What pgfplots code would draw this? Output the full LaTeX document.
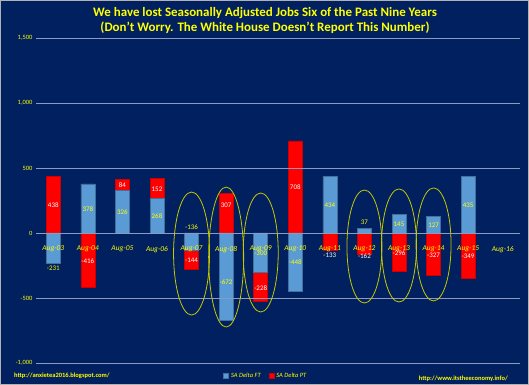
\documentclass[border=0pt]{standalone}
\usepackage{fontspec}
\setmainfont{Carlito}
\usepackage{pgfplots}
\usepackage{pgfplotstable}
\pgfplotsset{compat=1.18}
\definecolor{navy}{HTML}{002060}
\definecolor{ftblue}{HTML}{5B9BD5}
\definecolor{ftedge}{HTML}{41719C}
\definecolor{ptred}{HTML}{FF0000}
\definecolor{ylw}{HTML}{FFFF00}
\definecolor{ell}{HTML}{C8C800}
\definecolor{gridc}{HTML}{8C9AC0}

\pgfplotstableread{
x ft pt
0 -231 438
1 378 -416
2 326 84
3 268 152
4 -136 -144
5 -672 307
6 -300 -228
7 -448 708
8 434 -133
9 37 -162
10 145 -296
11 127 -327
12 435 -349
}\bars

\pgfplotstableread{
x y lab
0 -272 -231
1 185 378
2 159 326
3 128 268
4 46 -136
5 -379 -672
6 -156 -300
7 -228 -448
8 213 434
9 79 37
10 69 145
11 59 127
12 213 435
}\ylabels

\pgfplotstableread{
x y lab
0 215 438
1 -213 -416
2 367 84
3 338 152
4 -213 -144
5 215 307
6 -421 -228
7 349 708
10 -156 -296
11 -172 -327
12 -182 -349
}\wlabels

\pgfplotstableread{
x y lab
8 -174 -133
9 -177 -162
}\wlabelsb

\begin{document}
\begin{tikzpicture}
\fill[navy] (0bp,0bp) rectangle (529bp,385bp);
\draw[gray!60, line width=1bp] (0.5bp,0.5bp) rectangle (528.5bp,384.5bp);
\useasboundingbox (0bp,0bp) rectangle (529bp,385bp);
\pgfplotsset{base/.style={scale only axis, width=484bp, height=325bp,
  at={(36bp,22bp)}, anchor=south west, xmin=-0.5, xmax=13.5,
  ymin=-1000, ymax=1500, clip=false}}
\begin{axis}[base, ybar stacked, stack negative=separate, bar width=14bp,
  axis on top,
  axis x line*=middle, axis y line*=left,
  x axis line style={draw=none}, y axis line style={draw=none},
  xtick={0,...,13},
  xticklabels={Aug-03,Aug-04,Aug-05,Aug-06,Aug-07,Aug-08,Aug-09,Aug-10,Aug-11,Aug-12,Aug-13,Aug-14,Aug-15,Aug-16},
  xticklabel style={text=ylw, font=\fontsize{7.5}{8}\selectfont\itshape, yshift=-9.5bp},
  major tick length=0,
  ytick={-1000,-500,0,500,1000,1500},
  ymajorgrids, grid style={gridc, line width=0.9bp},
  yticklabel style={text=ylw, font=\fontsize{6.5}{7}\selectfont},
  /pgf/number format/assume math mode=true,
  /pgf/number format/1000 sep={,},
  legend style={at={(0.475,-0.04)}, anchor=center, draw=none, fill=none,
    legend columns=2, font=\fontsize{6.5}{7}\selectfont\itshape, text=ylw,
    /tikz/every even column/.append style={column sep=6bp}},
  legend image code/.code={\draw[#1] (0bp,-2.5bp) rectangle (5bp,2.5bp);},
]
\addplot[fill=ftblue, draw=ftedge, line width=0.6bp] table[x=x, y=ft] {\bars};
\addplot[fill=ptred, draw=ptred!80!black, line width=0.6bp] table[x=x, y=pt] {\bars};
\legend{SA Delta FT, SA Delta PT}
\end{axis}
\begin{axis}[base, hide axis]
\addplot[draw=none, mark=none, nodes near coords, point meta=explicit symbolic,
  every node near coord/.style={anchor=center, text=ylw, font=\fontsize{7}{8}\selectfont}]
  table[x=x, y=y, meta=lab] {\ylabels};
\addplot[draw=none, mark=none, nodes near coords, point meta=explicit symbolic,
  every node near coord/.style={anchor=center, text=white, font=\fontsize{7}{8}\selectfont}]
  table[x=x, y=y, meta=lab] {\wlabels};
\addplot[draw=none, mark=none, nodes near coords, point meta=explicit symbolic,
  every node near coord/.style={anchor=center, text=white, font=\fontsize{7}{8}\selectfont}]
  table[x=x, y=y, meta=lab] {\wlabelsb};
\draw[ell, line width=0.8bp] (axis cs:4,-158) ellipse [x radius=18bp, y radius=61.5bp];
\draw[ell, line width=0.8bp] (axis cs:5,-185) ellipse [x radius=17.5bp, y radius=70bp];
\draw[ell, line width=0.8bp] (axis cs:6,-150) ellipse [x radius=17.5bp, y radius=59.5bp];
\draw[ell, line width=0.8bp] (axis cs:9,-104) ellipse [x radius=17.5bp, y radius=56.5bp];
\draw[ell, line width=0.8bp] (axis cs:10,-96) ellipse [x radius=17.5bp, y radius=56.5bp];
\draw[ell, line width=0.8bp] (axis cs:11,-88) ellipse [x radius=17.5bp, y radius=56.5bp];
\end{axis}
\node[align=center, text=ylw, font=\fontsize{13}{15.5}\selectfont\bfseries] at (265bp,364.5bp)
  {We have lost Seasonally Adjusted Jobs Six of the Past Nine Years\\(Don't Worry. The White House Doesn't Report This Number)};
\node[anchor=west, text=ylw, font=\fontsize{6.5}{7}\selectfont\bfseries, inner sep=0] at (14bp,9bp) {http://anxietea2016.blogspot.com/};
\node[anchor=east, text=ylw, font=\fontsize{6.5}{7}\selectfont\bfseries, inner sep=0] at (508bp,6bp) {http://www.itstheeconomy.info/};
\end{tikzpicture}
\end{document}
